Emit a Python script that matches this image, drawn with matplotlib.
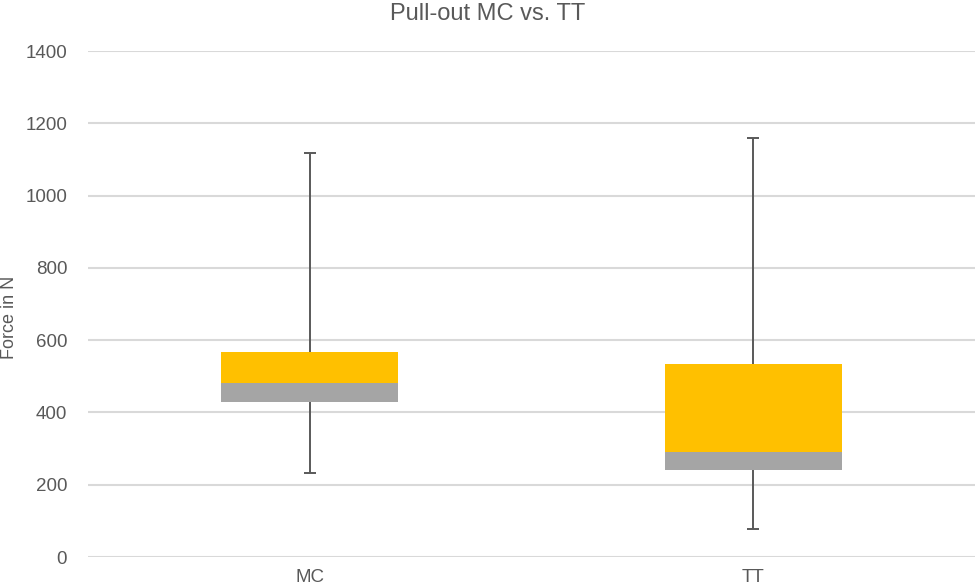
import matplotlib
matplotlib.use('Agg')
import matplotlib.pyplot as plt

# Box plot built Excel-style from stacked bars + whiskers
categories = ['MC', 'TT']
mins = [232, 78]
q1 = [430, 241]
medians = [482, 291]
q3 = [566, 535]
maxs = [1118, 1158]

yellow = '#FFC000'
grey = '#A5A5A5'
text_col = '#595959'
grid_col = '#D9D9D9'

plt.rcParams['font.family'] = ['Liberation Sans', 'DejaVu Sans']

fig = plt.figure(figsize=(9.75, 5.88), dpi=100)
ax = fig.add_axes([88 / 975, 31 / 588, 887 / 975, 506 / 588])

x = list(range(len(categories)))
lower = [m - a for m, a in zip(medians, q1)]
upper = [b - m for b, m in zip(q3, medians)]

ax.bar(x, lower, bottom=q1, width=0.4, color=grey, zorder=2)
ax.bar(x, upper, bottom=medians, width=0.4, color=yellow, zorder=2)

# Whiskers: lines from the box out to min/max, caps only at the far ends
ax.vlines(x, q3, maxs, color=text_col, linewidth=1.4, zorder=3)
ax.vlines(x, mins, q1, color=text_col, linewidth=1.4, zorder=3)
ax.plot(x, maxs, linestyle='none', marker='_', markersize=8, markeredgewidth=1.4,
        color=text_col, zorder=3)
ax.plot(x, mins, linestyle='none', marker='_', markersize=8, markeredgewidth=1.4,
        color=text_col, zorder=3)

ax.set_xlim(-0.5, 1.5)
ax.set_ylim(0, 1400)
ax.set_yticks(range(0, 1401, 200))
ax.set_xticks(x)
ax.set_xticklabels(categories)
ax.yaxis.grid(True, color=grid_col, linewidth=1.5, zorder=0)
ax.set_axisbelow(True)
for s in ax.spines.values():
    s.set_visible(False)
ax.tick_params(axis='both', length=0, labelsize=13.5, colors=text_col)
ax.tick_params(axis='y', pad=15)
ax.tick_params(axis='x', pad=9)

fig.text(10 / 975, 1 - 317 / 588, 'Force in N', rotation=90, ha='center', va='center',
         fontsize=13, color=text_col)
fig.text(0.5, 1 - 14 / 588, 'Pull-out MC vs. TT', ha='center', va='center',
         fontsize=17, color=text_col)

plt.savefig('out.png', dpi=100)
